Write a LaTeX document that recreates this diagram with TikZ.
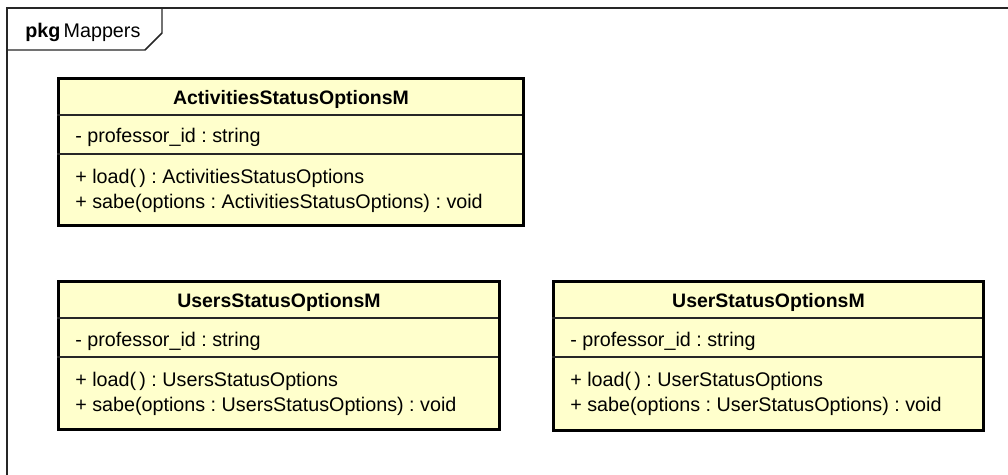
\documentclass[tikz,border=0pt]{standalone}
\usepackage{fontspec}
\setmainfont{Liberation Sans}
\usepackage{tikz}

\definecolor{classfill}{HTML}{FFFFCC}
\frenchspacing

\begin{document}
\begin{tikzpicture}[x=0.75pt,y=-0.75pt,font=\fontsize{14.8}{18}\selectfont]
      \tikzstyle{classbox}=[draw=black,line width=2.2pt,fill=classfill,anchor=north west,inner sep=0pt]
      \tikzstyle{sep}=[line width=0.8pt,draw=black!85]
      \tikzstyle{member}=[anchor=base west,inner sep=0pt]
      \tikzstyle{title}=[anchor=base,inner sep=0pt,font=\fontsize{14.6}{18}\selectfont\bfseries]
      \useasboundingbox (0,0) rectangle (1008,475);

      % package frame
      \draw[line width=1.1pt,black!85] (7,480) -- (7,8) -- (1012,8);
      \draw[line width=1.1pt,black!85] (7,50) -- (145,50) -- (162,33) -- (162,8);
      \node [anchor=base west,inner sep=0pt] (pkg) at (25,37) {\textbf{pkg}\,Mappers};

      % ActivitiesStatusOptionsM
      \node [classbox,minimum width=348.75pt,minimum height=110.25pt] (act) at (57,77) {};
      \draw[sep] (act.north west) ++(0,38) -- ++(465,0);
      \draw[sep] (act.north west) ++(0,77) -- ++(465,0);
      \node [title] (act-t) at ([shift={(0,27)}]act.north) {ActivitiesStatusOptionsM};
      \node [member] (act-a) at ([shift={(18,65)}]act.north west) {- professor\_id : string};
      \node [member] (act-m1) at ([shift={(18,106)}]act.north west) {+ load(\,) : ActivitiesStatusOptions};
      \node [member] (act-m2) at ([shift={(18,131)}]act.north west) {+ sabe(options : ActivitiesStatusOptions) : void};

      % UsersStatusOptionsM
      \node [classbox,minimum width=330.75pt,minimum height=111pt] (users) at (57,280) {};
      \draw[sep] (users.north west) ++(0,38) -- ++(441,0);
      \draw[sep] (users.north west) ++(0,77) -- ++(441,0);
      \node [title] (users-t) at ([shift={(0,27)}]users.north) {UsersStatusOptionsM};
      \node [member] (users-a) at ([shift={(18,66)}]users.north west) {- professor\_id : string};
      \node [member] (users-m1) at ([shift={(18,106)}]users.north west) {+ load(\,) : UsersStatusOptions};
      \node [member] (users-m2) at ([shift={(18,131)}]users.north west) {+ sabe(options : UsersStatusOptions) : void};

      % UserStatusOptionsM
      \node [classbox,minimum width=322.5pt,minimum height=111.75pt] (user) at (552,280) {};
      \draw[sep] (user.north west) ++(0,38) -- ++(430,0);
      \draw[sep] (user.north west) ++(0,77) -- ++(430,0);
      \node [title] (user-t) at ([shift={(0,27)}]user.north) {UserStatusOptionsM};
      \node [member] (user-a) at ([shift={(18,66)}]user.north west) {- professor\_id : string};
      \node [member] (user-m1) at ([shift={(18,106)}]user.north west) {+ load(\,) : UserStatusOptions};
      \node [member] (user-m2) at ([shift={(18,131)}]user.north west) {+ sabe(options : UserStatusOptions) : void};
\end{tikzpicture}
\end{document}
